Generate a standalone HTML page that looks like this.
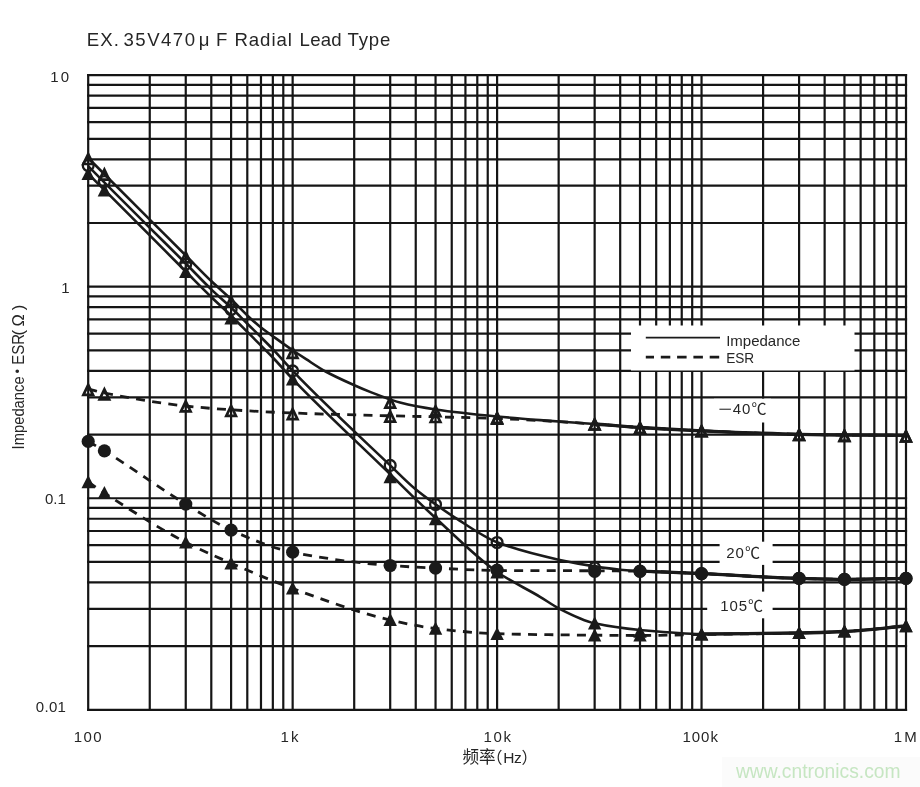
<!DOCTYPE html>
<html lang="zh"><head><meta charset="utf-8"><title>Impedance / ESR vs frequency</title>
<style>
html,body{margin:0;padding:0;background:#fff;}
body{width:920px;height:787px;overflow:hidden;position:relative;font-family:"Liberation Sans","Noto Sans CJK SC",sans-serif;}
svg{position:absolute;left:0;top:0;display:block;}
text{font-family:"Liberation Sans","Noto Sans CJK SC",sans-serif;fill:#262626;}
.g line{stroke:#151515;stroke-width:2.2;}
.s{fill:none;stroke:#1a1a1a;stroke-width:2.6;stroke-linejoin:round;stroke-linecap:butt;}
.d{fill:none;stroke:#1a1a1a;stroke-width:2.8;stroke-dasharray:9 7.3;stroke-linecap:butt;}
.ft{fill:#1a1a1a;}
.ot{fill:none;stroke:#1a1a1a;stroke-width:2.7;stroke-linejoin:miter;}
.fc{fill:#1a1a1a;}
.oc{fill:none;stroke:#1a1a1a;stroke-width:2.3;}
.ax{font-size:15px;letter-spacing:0.6px;}
</style></head><body>
<svg width="920" height="787" viewBox="0 0 920 787">
<rect x="0" y="0" width="920" height="787" fill="#fff"/>
<g class="g">
<line x1="88.20" y1="74.00" x2="88.20" y2="710.90"/>
<line x1="149.75" y1="74.00" x2="149.75" y2="710.90"/>
<line x1="185.75" y1="74.00" x2="185.75" y2="710.90"/>
<line x1="211.29" y1="74.00" x2="211.29" y2="710.90"/>
<line x1="231.10" y1="74.00" x2="231.10" y2="710.90"/>
<line x1="247.29" y1="74.00" x2="247.29" y2="710.90"/>
<line x1="260.98" y1="74.00" x2="260.98" y2="710.90"/>
<line x1="272.84" y1="74.00" x2="272.84" y2="710.90"/>
<line x1="283.29" y1="74.00" x2="283.29" y2="710.90"/>
<line x1="292.65" y1="74.00" x2="292.65" y2="710.90"/>
<line x1="354.20" y1="74.00" x2="354.20" y2="710.90"/>
<line x1="390.20" y1="74.00" x2="390.20" y2="710.90"/>
<line x1="415.74" y1="74.00" x2="415.74" y2="710.90"/>
<line x1="435.55" y1="74.00" x2="435.55" y2="710.90"/>
<line x1="451.74" y1="74.00" x2="451.74" y2="710.90"/>
<line x1="465.43" y1="74.00" x2="465.43" y2="710.90"/>
<line x1="477.29" y1="74.00" x2="477.29" y2="710.90"/>
<line x1="487.74" y1="74.00" x2="487.74" y2="710.90"/>
<line x1="497.10" y1="74.00" x2="497.10" y2="710.90"/>
<line x1="558.65" y1="74.00" x2="558.65" y2="710.90"/>
<line x1="594.65" y1="74.00" x2="594.65" y2="710.90"/>
<line x1="620.19" y1="74.00" x2="620.19" y2="710.90"/>
<line x1="640.00" y1="74.00" x2="640.00" y2="710.90"/>
<line x1="656.19" y1="74.00" x2="656.19" y2="710.90"/>
<line x1="669.88" y1="74.00" x2="669.88" y2="710.90"/>
<line x1="681.74" y1="74.00" x2="681.74" y2="710.90"/>
<line x1="692.19" y1="74.00" x2="692.19" y2="710.90"/>
<line x1="701.55" y1="74.00" x2="701.55" y2="710.90"/>
<line x1="763.10" y1="74.00" x2="763.10" y2="710.90"/>
<line x1="799.10" y1="74.00" x2="799.10" y2="710.90"/>
<line x1="824.64" y1="74.00" x2="824.64" y2="710.90"/>
<line x1="844.45" y1="74.00" x2="844.45" y2="710.90"/>
<line x1="860.64" y1="74.00" x2="860.64" y2="710.90"/>
<line x1="874.33" y1="74.00" x2="874.33" y2="710.90"/>
<line x1="886.19" y1="74.00" x2="886.19" y2="710.90"/>
<line x1="896.64" y1="74.00" x2="896.64" y2="710.90"/>
<line x1="906.00" y1="74.00" x2="906.00" y2="710.90"/>
<line x1="87.10" y1="75.10" x2="907.10" y2="75.10"/>
<line x1="87.10" y1="84.78" x2="907.10" y2="84.78"/>
<line x1="87.10" y1="95.60" x2="907.10" y2="95.60"/>
<line x1="87.10" y1="107.87" x2="907.10" y2="107.87"/>
<line x1="87.10" y1="122.04" x2="907.10" y2="122.04"/>
<line x1="87.10" y1="138.79" x2="907.10" y2="138.79"/>
<line x1="87.10" y1="159.29" x2="907.10" y2="159.29"/>
<line x1="87.10" y1="185.72" x2="907.10" y2="185.72"/>
<line x1="87.10" y1="222.98" x2="907.10" y2="222.98"/>
<line x1="87.10" y1="286.67" x2="907.10" y2="286.67"/>
<line x1="87.10" y1="296.35" x2="907.10" y2="296.35"/>
<line x1="87.10" y1="307.17" x2="907.10" y2="307.17"/>
<line x1="87.10" y1="319.44" x2="907.10" y2="319.44"/>
<line x1="87.10" y1="333.60" x2="907.10" y2="333.60"/>
<line x1="87.10" y1="350.35" x2="907.10" y2="350.35"/>
<line x1="87.10" y1="370.86" x2="907.10" y2="370.86"/>
<line x1="87.10" y1="397.29" x2="907.10" y2="397.29"/>
<line x1="87.10" y1="434.55" x2="907.10" y2="434.55"/>
<line x1="87.10" y1="498.23" x2="907.10" y2="498.23"/>
<line x1="87.10" y1="507.91" x2="907.10" y2="507.91"/>
<line x1="87.10" y1="518.74" x2="907.10" y2="518.74"/>
<line x1="87.10" y1="531.01" x2="907.10" y2="531.01"/>
<line x1="87.10" y1="545.17" x2="907.10" y2="545.17"/>
<line x1="87.10" y1="561.92" x2="907.10" y2="561.92"/>
<line x1="87.10" y1="582.42" x2="907.10" y2="582.42"/>
<line x1="87.10" y1="608.86" x2="907.10" y2="608.86"/>
<line x1="87.10" y1="646.11" x2="907.10" y2="646.11"/>
<line x1="87.10" y1="709.80" x2="907.10" y2="709.80"/>
</g>
<rect x="631" y="325.5" width="223.5" height="45" fill="#fff"/>
<rect x="714" y="398.7" width="57" height="23.8" fill="#fff"/>
<rect x="719.6" y="541.7" width="53" height="23.2" fill="#fff"/>
<rect x="707.2" y="591.6" width="65.4" height="26.7" fill="#fff"/>
<path class="d" d="M88.20 389.00 C93.60 390.33 99.00 391.90 104.40 393.00 C131.52 398.52 158.63 403.10 185.75 406.00 C200.87 407.61 215.98 408.82 231.10 409.80 C251.62 411.13 272.13 412.22 292.65 413.00 C325.17 414.23 357.68 415.00 390.20 415.80 C405.32 416.17 420.43 416.43 435.55 416.80 C456.07 417.30 476.58 417.76 497.10 418.50 C529.62 419.68 562.13 421.84 594.65 424.00 C609.77 425.00 624.88 426.53 640.00 427.50 C660.52 428.81 681.03 429.90 701.55 430.80 C734.07 432.22 766.58 433.63 799.10 434.30 C814.22 434.61 829.33 434.88 844.45 435.00 C864.97 435.16 885.48 435.20 906.00 435.30"/>
<path class="d" d="M88.20 441.40 C93.60 444.53 99.00 447.52 104.40 450.80 C131.52 467.27 158.63 487.58 185.75 504.10 C200.87 513.31 215.98 523.45 231.10 530.20 C251.62 539.36 272.13 548.01 292.65 552.20 C325.17 558.84 357.68 563.00 390.20 565.50 C405.32 566.66 420.43 567.39 435.55 568.10 C456.07 569.06 476.58 570.37 497.10 570.50 C529.62 570.70 562.13 570.64 594.65 570.80 C609.77 570.87 624.88 570.99 640.00 571.20 C660.52 571.49 681.03 572.72 701.55 573.60 C734.07 575.00 766.58 577.53 799.10 578.40 C814.22 578.81 829.33 579.30 844.45 579.30 C864.97 579.30 885.48 578.70 906.00 578.40"/>
<path class="d" d="M88.20 482.00 C93.60 485.67 99.00 489.50 104.40 493.00 C131.52 510.59 158.63 528.28 185.75 542.30 C200.87 550.11 215.98 556.61 231.10 563.20 C251.62 572.14 272.13 581.01 292.65 588.50 C325.17 600.37 357.68 612.53 390.20 620.00 C405.32 623.47 420.43 626.71 435.55 628.50 C456.07 630.94 476.58 633.14 497.10 633.70 C529.62 634.59 562.13 634.91 594.65 635.20 C609.77 635.33 624.88 635.50 640.00 635.50 C660.52 635.50 681.03 634.82 701.55 634.50 C734.07 633.99 766.58 633.71 799.10 633.00 C814.22 632.67 829.33 632.21 844.45 631.50 C864.97 630.53 885.48 627.83 906.00 626.00"/>
<path class="s" d="M88.20 158.00 C108.57 178.37 128.93 198.75 149.30 219.10 C161.45 231.24 173.60 243.35 185.75 255.50 C194.33 264.09 202.92 273.12 211.50 281.30 C218.03 287.53 224.57 292.96 231.10 299.20 C236.77 304.62 242.43 310.90 248.10 316.20 C252.40 320.22 256.70 324.17 261.00 327.60 C264.93 330.74 268.87 333.37 272.80 336.20 C279.42 340.97 286.03 345.78 292.65 350.30 C297.13 353.36 301.62 356.30 306.10 359.20 C312.60 363.40 319.10 367.94 325.60 371.50 C335.17 376.75 344.73 380.93 354.30 385.20 C359.97 387.73 365.63 390.16 371.30 392.40 C377.60 394.89 383.90 397.23 390.20 399.40 C393.47 400.53 396.73 401.76 400.00 402.60 C411.85 405.63 423.70 407.76 435.55 409.50 C456.07 412.51 476.58 414.54 497.10 416.50 C511.40 417.87 525.70 418.99 540.00 420.10 C558.22 421.51 576.43 422.65 594.65 424.00 C609.77 425.12 624.88 426.53 640.00 427.50 C660.52 428.81 681.03 429.90 701.55 430.80 C734.07 432.22 766.58 433.63 799.10 434.30 C814.22 434.61 829.33 434.88 844.45 435.00 C864.97 435.16 885.48 435.20 906.00 435.30"/>
<path class="s" d="M88.20 166.20 C108.57 186.57 128.93 207.01 149.30 227.30 C161.45 239.40 173.60 251.30 185.75 263.50 C194.33 272.12 202.92 281.37 211.50 289.60 C218.03 295.86 224.57 301.26 231.10 307.50 C236.77 312.92 242.43 318.88 248.10 324.50 C252.40 328.76 256.70 332.90 261.00 337.20 C264.93 341.14 268.87 345.07 272.80 349.20 C279.42 356.15 286.03 364.01 292.65 370.90 C325.17 404.75 357.68 434.46 390.20 465.40 C398.57 473.36 406.93 482.02 415.30 489.00 C422.05 494.63 428.80 499.46 435.55 504.30 C442.03 508.95 448.52 513.47 455.00 517.60 C469.03 526.55 483.07 536.83 497.10 542.30 C517.62 550.30 538.13 555.18 558.65 559.70 C570.65 562.35 582.65 564.59 594.65 566.40 C603.17 567.69 611.68 568.93 620.20 569.70 C626.80 570.30 633.40 570.74 640.00 571.10 C660.52 572.21 681.03 572.69 701.55 573.60 C734.07 575.04 766.58 577.53 799.10 578.40 C814.22 578.81 829.33 579.30 844.45 579.30 C864.97 579.30 885.48 578.70 906.00 578.40"/>
<path class="s" d="M88.20 173.80 C108.57 194.17 128.93 214.49 149.30 234.90 C161.45 247.08 173.60 259.34 185.75 271.50 C194.33 280.09 202.92 288.88 211.50 297.20 C218.03 303.53 224.57 309.35 231.10 315.70 C236.77 321.21 242.43 327.02 248.10 332.70 C256.33 340.95 264.57 348.89 272.80 357.50 C279.42 364.42 286.03 372.21 292.65 379.10 C325.17 412.95 357.68 442.40 390.20 474.20 C398.57 482.38 406.93 490.74 415.30 498.80 C422.05 505.30 428.80 511.81 435.55 518.00 C456.07 536.82 476.58 557.87 497.10 572.00 C511.40 581.85 525.70 588.23 540.00 596.80 C546.22 600.53 552.43 605.14 558.65 608.30 C570.65 614.39 582.65 620.63 594.65 623.30 C609.77 626.66 624.88 628.61 640.00 630.00 C660.52 631.89 681.03 634.00 701.55 634.00 C734.07 634.00 766.58 633.54 799.10 633.00 C814.22 632.75 829.33 632.21 844.45 631.50 C864.97 630.53 885.48 627.83 906.00 626.00"/>
<path class="s" style="stroke-width:3.3" d="M594.65 424.00 C609.77 425.17 624.88 426.53 640.00 427.50 C660.52 428.81 681.03 429.90 701.55 430.80 C734.07 432.22 766.58 433.63 799.10 434.30 C814.22 434.61 829.33 434.88 844.45 435.00 C864.97 435.16 885.48 435.20 906.00 435.30"/>
<path class="s" style="stroke-width:3.3" d="M640.00 571.10 C660.52 571.93 681.03 572.69 701.55 573.60 C734.07 575.04 766.58 577.53 799.10 578.40 C814.22 578.81 829.33 579.30 844.45 579.30 C864.97 579.30 885.48 578.70 906.00 578.40"/>
<path class="s" style="stroke-width:3.3" d="M701.55 634.00 C734.07 633.67 766.58 633.54 799.10 633.00 C814.22 632.75 829.33 632.21 844.45 631.50 C864.97 630.53 885.48 627.83 906.00 626.00"/>
<polygon class="ot" points="88.20,384.90 83.40,394.80 93.00,394.80"/>
<polygon class="ot" points="104.39,389.40 99.59,399.30 109.19,399.30"/>
<polygon class="ot" points="185.75,401.40 180.95,411.30 190.55,411.30"/>
<polygon class="ot" points="231.10,405.90 226.30,415.80 235.90,415.80"/>
<polygon class="ot" points="292.65,409.20 287.85,419.10 297.45,419.10"/>
<polygon class="ot" points="390.20,411.70 385.40,421.60 395.00,421.60"/>
<polygon class="ot" points="435.55,412.10 430.75,422.00 440.35,422.00"/>
<polygon class="ot" points="497.10,413.70 492.30,423.60 501.90,423.60"/>
<polygon class="ot" points="594.65,419.60 589.85,429.50 599.45,429.50"/>
<polygon class="ot" points="640.00,423.20 635.20,433.10 644.80,433.10"/>
<polygon class="ot" points="701.55,426.30 696.75,436.20 706.35,436.20"/>
<polygon class="ot" points="799.10,430.00 794.30,439.90 803.90,439.90"/>
<polygon class="ot" points="844.45,430.90 839.65,440.80 849.25,440.80"/>
<polygon class="ot" points="906.00,431.40 901.20,441.30 910.80,441.30"/>
<polygon class="ot" points="88.20,154.10 83.40,164.00 93.00,164.00"/>
<polygon class="ot" points="104.39,169.70 99.59,179.60 109.19,179.60"/>
<polygon class="ot" points="185.75,252.40 180.95,262.30 190.55,262.30"/>
<polygon class="ot" points="231.10,296.80 226.30,306.70 235.90,306.70"/>
<polygon class="ot" points="292.65,348.00 287.85,357.90 297.45,357.90"/>
<polygon class="ot" points="390.20,397.70 385.40,407.60 395.00,407.60"/>
<polygon class="ot" points="435.55,406.30 430.75,416.20 440.35,416.20"/>
<polygon class="ot" points="497.10,413.00 492.30,422.90 501.90,422.90"/>
<polygon class="ot" points="594.65,419.60 589.85,429.50 599.45,429.50"/>
<polygon class="ot" points="640.00,423.20 635.20,433.10 644.80,433.10"/>
<polygon class="ot" points="701.55,426.30 696.75,436.20 706.35,436.20"/>
<polygon class="ot" points="799.10,430.00 794.30,439.90 803.90,439.90"/>
<polygon class="ot" points="844.45,430.90 839.65,440.80 849.25,440.80"/>
<polygon class="ot" points="906.00,431.40 901.20,441.30 910.80,441.30"/>
<polygon class="ft" points="88.20,475.00 81.50,488.20 94.90,488.20"/>
<polygon class="ft" points="104.39,485.90 97.69,499.10 111.09,499.10"/>
<polygon class="ft" points="185.75,535.40 179.05,548.60 192.45,548.60"/>
<polygon class="ft" points="231.10,556.30 224.40,569.50 237.80,569.50"/>
<polygon class="ft" points="292.65,581.30 285.95,594.50 299.35,594.50"/>
<polygon class="ft" points="390.20,612.80 383.50,626.00 396.90,626.00"/>
<polygon class="ft" points="435.55,621.60 428.85,634.80 442.25,634.80"/>
<polygon class="ft" points="497.10,626.90 490.40,640.10 503.80,640.10"/>
<polygon class="ft" points="594.65,628.30 587.95,641.50 601.35,641.50"/>
<polygon class="ft" points="640.00,628.40 633.30,641.60 646.70,641.60"/>
<polygon class="ft" points="701.55,627.40 694.85,640.60 708.25,640.60"/>
<polygon class="ft" points="799.10,625.90 792.40,639.10 805.80,639.10"/>
<polygon class="ft" points="844.45,624.30 837.75,637.50 851.15,637.50"/>
<polygon class="ft" points="906.00,619.10 899.30,632.30 912.70,632.30"/>
<polygon class="ft" points="88.20,166.90 81.50,180.10 94.90,180.10"/>
<polygon class="ft" points="104.39,183.20 97.69,196.40 111.09,196.40"/>
<polygon class="ft" points="185.75,264.90 179.05,278.10 192.45,278.10"/>
<polygon class="ft" points="231.10,311.20 224.40,324.40 237.80,324.40"/>
<polygon class="ft" points="292.65,372.30 285.95,385.50 299.35,385.50"/>
<polygon class="ft" points="390.20,470.00 383.50,483.20 396.90,483.20"/>
<polygon class="ft" points="435.55,512.10 428.85,525.30 442.25,525.30"/>
<polygon class="ft" points="497.10,565.30 490.40,578.50 503.80,578.50"/>
<polygon class="ft" points="594.65,616.30 587.95,629.50 601.35,629.50"/>
<polygon class="ft" points="640.00,624.60 633.30,637.80 646.70,637.80"/>
<polygon class="ft" points="701.55,627.40 694.85,640.60 708.25,640.60"/>
<polygon class="ft" points="799.10,625.90 792.40,639.10 805.80,639.10"/>
<polygon class="ft" points="844.45,624.30 837.75,637.50 851.15,637.50"/>
<polygon class="ft" points="906.00,619.10 899.30,632.30 912.70,632.30"/>
<circle class="oc" cx="88.20" cy="165.60" r="5.4"/>
<circle class="oc" cx="104.39" cy="181.50" r="5.4"/>
<circle class="oc" cx="185.75" cy="264.20" r="5.4"/>
<circle class="oc" cx="231.10" cy="309.50" r="5.4"/>
<circle class="oc" cx="292.65" cy="370.90" r="5.4"/>
<circle class="oc" cx="390.20" cy="465.40" r="5.4"/>
<circle class="oc" cx="435.55" cy="504.50" r="5.4"/>
<circle class="oc" cx="497.10" cy="542.50" r="5.4"/>
<circle class="oc" cx="594.65" cy="567.80" r="5.4"/>
<circle class="oc" cx="640.00" cy="571.10" r="5.4"/>
<circle class="oc" cx="701.55" cy="573.60" r="5.4"/>
<circle class="oc" cx="799.10" cy="578.40" r="5.4"/>
<circle class="oc" cx="844.45" cy="579.30" r="5.4"/>
<circle class="oc" cx="906.00" cy="578.40" r="5.4"/>
<circle class="fc" cx="88.20" cy="441.40" r="6.6"/>
<circle class="fc" cx="104.39" cy="450.80" r="6.6"/>
<circle class="fc" cx="185.75" cy="504.10" r="6.6"/>
<circle class="fc" cx="231.10" cy="530.20" r="6.6"/>
<circle class="fc" cx="292.65" cy="552.20" r="6.6"/>
<circle class="fc" cx="390.20" cy="565.50" r="6.6"/>
<circle class="fc" cx="435.55" cy="568.10" r="6.6"/>
<circle class="fc" cx="497.10" cy="570.20" r="6.6"/>
<circle class="fc" cx="594.65" cy="571.30" r="6.6"/>
<circle class="fc" cx="640.00" cy="571.30" r="6.6"/>
<circle class="fc" cx="701.55" cy="573.60" r="6.6"/>
<circle class="fc" cx="799.10" cy="578.40" r="6.6"/>
<circle class="fc" cx="844.45" cy="579.30" r="6.6"/>
<circle class="fc" cx="906.00" cy="578.40" r="6.6"/>
<line x1="645.8" y1="337.7" x2="720" y2="337.7" stroke="#1a1a1a" stroke-width="1.8"/>
<line x1="645.8" y1="357.2" x2="720" y2="357.2" stroke="#1a1a1a" stroke-width="2.7" stroke-dasharray="9.5 6.8" stroke-dashoffset="1.3"/>
<text x="726.2" y="345.8" font-size="15" textLength="74.2" lengthAdjust="spacingAndGlyphs">Impedance</text>
<text x="726.2" y="363" font-size="15" textLength="28" lengthAdjust="spacingAndGlyphs">ESR</text>
<text y="414" font-size="15"><tspan x="718.2" textLength="13.8" lengthAdjust="spacingAndGlyphs">−</tspan><tspan x="732.7" letter-spacing="0.9">40</tspan><tspan x="751.4">℃</tspan></text>
<text x="726.2" y="557.9" font-size="15" textLength="33.8" lengthAdjust="spacing">20℃</text>
<text x="720.2" y="610.9" font-size="15" textLength="42.8" lengthAdjust="spacing">105℃</text>
<text y="46.2" font-size="18.6"><tspan x="86.8" textLength="32" lengthAdjust="spacing">EX.</tspan> <tspan x="123.5" textLength="71.5" lengthAdjust="spacing">35V470</tspan><tspan x="198.8">μ</tspan><tspan x="216">F</tspan> <tspan x="234.4" textLength="57.6" lengthAdjust="spacing">Radial</tspan> <tspan x="299.6" textLength="42" lengthAdjust="spacing">Lead</tspan> <tspan x="347.4" textLength="43" lengthAdjust="spacing">Type</tspan></text>
<text font-size="15" x="50.3" y="81.8" letter-spacing="2.2">10</text>
<text font-size="15" x="69.7" y="293" text-anchor="end">1</text>
<text font-size="15" x="65.9" y="503.7" text-anchor="end">0.1</text>
<text font-size="15" x="66.2" y="711.7" text-anchor="end" letter-spacing="0.3">0.01</text>
<text font-size="15" x="73.7" y="742.2" letter-spacing="1.5">100</text>
<text font-size="15" x="280.4" y="742.2" letter-spacing="2.3">1k</text>
<text font-size="15" x="483.5" y="742.2" letter-spacing="1.65">10k</text>
<text font-size="15" x="682.4" y="742.2" letter-spacing="1.0">100k</text>
<text font-size="15" x="893.7" y="742.2" letter-spacing="2.2">1M</text>
<text y="763"><tspan x="462.4" font-size="16.6">频率</tspan><tspan x="486.5" font-size="16">（</tspan><tspan x="503.2" font-size="15.5" textLength="18.6" lengthAdjust="spacing">Hz</tspan><tspan x="521.4" font-size="16">）</tspan></text>
<text transform="translate(24 448.2) rotate(-90)" font-size="16.5" y="0"><tspan x="-1.2" textLength="73" lengthAdjust="spacingAndGlyphs">Impedance</tspan><tspan x="68.6" font-size="16.5">・</tspan><tspan x="83.4" textLength="30.8" lengthAdjust="spacingAndGlyphs">ESR</tspan><tspan x="112.8">(</tspan><tspan x="121.6">Ω</tspan><tspan x="138">)</tspan></text>
<rect x="722" y="757" width="198" height="30" fill="#fbfbfb"/>
<text x="735.9" y="777.8" font-size="21" textLength="164.6" lengthAdjust="spacingAndGlyphs" style="fill:#c6e6c2">www.cntronics.com</text>
</svg>
</body></html>
